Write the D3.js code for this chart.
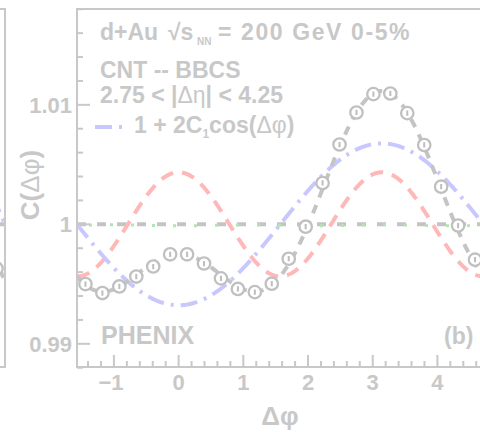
<!DOCTYPE html>
<html>
<head>
<meta charset="utf-8">
<script src="https://cdn.jsdelivr.net/npm/d3@7"></script>
<style>
  html, body { margin: 0; padding: 0; background: #fff; }
  svg { display: block; }
  text { font-family: "Liberation Sans", Arial, Helvetica, sans-serif; font-weight: bold; fill: #c8c8c8; }
</style>
</head>
<body>
<svg id="chart" width="480" height="432"></svg>
<script>
// Δφ bin centres (rad) and measured correlation C(Δφ), panel (b)
const dphi = [-1.4399, -1.1781, -0.9163, -0.6545, -0.3927, -0.1309, 0.1309, 0.3927,
              0.6545, 0.9163, 1.1781, 1.4399, 1.7017, 1.9635, 2.2253, 2.4871,
              2.7489, 3.0107, 3.2725, 3.5343, 3.7961, 4.0579, 4.3197, 4.5815];
const corr = [0.99500, 0.99425, 0.99480, 0.99563, 0.99647, 0.99749, 0.99749, 0.99672,
              0.99548, 0.99459, 0.99433, 0.99503, 0.99712, 0.99980, 1.00346, 1.00668,
              1.00936, 1.01090, 1.01095, 1.00931, 1.00664, 1.00315, 0.99990, 0.99704];
const corrErr = [0.00022, 0.00022, 0.00022, 0.00022, 0.00022, 0.00022, 0.00022, 0.00022,
                 0.00022, 0.00022, 0.00022, 0.00022, 0.00022, 0.00022, 0.00022, 0.00022,
                 0.00022, 0.00022, 0.00022, 0.00022, 0.00022, 0.00022, 0.00022, 0.00022];

// Fourier coefficients of the fit 1 + 2C1cos + 2C2cos2 + 2C3cos3
const C1 = -0.003386;
const C2 = 0.002177;
const C3 = -0.00002;

// Neighbouring panel (a): its last bin and its fit coefficients
const dphiA = [4.5815];
const corrA = [0.99630];
const C1a = -0.0062, C2a = 0.0024, C3a = 0.0000;

const xMajorTicks = [-1, 0, 1, 2, 3, 4];
const yMajorTicks = [0.99, 1.0, 1.01];
const yTickLabels = ["0.99", "1", "1.01"];
const xTickLabels = ["\u22121", "0", "1", "2", "3", "4"];

const svg = d3.select("#chart");
const grey = "#c8c8c8";

// panel (b) frame
const L = 77, T = 9, B = 367, R = 483.5;
const x = d3.scaleLinear().domain([-Math.PI / 2, 3 * Math.PI / 2]).range([L, R]);
const y = d3.scaleLinear().domain([0.98806, 1.01802]).range([B, T]);

// panel (a) frame (only its right edge shows)
const xa = d3.scaleLinear().domain([-Math.PI / 2, 3 * Math.PI / 2]).range([5 - (R - L), 5]);

svg.append("defs").append("clipPath").attr("id", "clipB")
  .append("rect").attr("x", L).attr("y", T).attr("width", R - L).attr("height", B - T);
svg.select("defs").append("clipPath").attr("id", "clipA")
  .append("rect").attr("x", -10).attr("y", T).attr("width", 15).attr("height", B - T);

const grid = d3.range(0, 401).map(i => -Math.PI / 2 + i * 2 * Math.PI / 400);
function fourier(a0, c1, c2, c3) {
  return p => a0 + 2 * c1 * Math.cos(p) + 2 * c2 * Math.cos(2 * p) + 2 * c3 * Math.cos(3 * p);
}

function drawPanel(g, xs, fits, px, py, err) {
  const line = f => d3.line().x(d => xs(d)).y(d => y(f(d)))(grid);
  // flat unity line
  g.append("path").attr("d", line(() => 1.0))
    .attr("fill", "none").attr("stroke", "#c4c4c4").attr("stroke-width", 4)
    .attr("stroke-dasharray", "9,11");
  // second-harmonic term
  g.append("path").attr("d", line(fourier(1, 0, fits[1], 0)))
    .attr("fill", "none").attr("stroke", "#ffb8b8").attr("stroke-width", 4)
    .attr("stroke-dasharray", "13,9");
  // first-harmonic term
  g.append("path").attr("d", line(fourier(1, fits[0], 0, 0)))
    .attr("fill", "none").attr("stroke", "#c8c8ff").attr("stroke-width", 4)
    .attr("stroke-dasharray", "17,7,3,7");
  // third-harmonic term
  g.append("path").attr("d", line(fourier(1, 0, 0, fits[2])))
    .attr("fill", "none").attr("stroke", "#b6e2b6").attr("stroke-width", 3)
    .attr("stroke-dasharray", "3,18").attr("stroke-dashoffset", -12)
    .attr("transform", "translate(0,1)");
  // full fit
  g.append("path").attr("d", line(fourier(1, fits[0], fits[1], fits[2])))
    .attr("fill", "none").attr("stroke", "#c4c4c4").attr("stroke-width", 4)
    .attr("stroke-dasharray", "9,8");
  // data points
  const pts = g.selectAll("g.pt").data(px.map((p, i) => ({ p, v: py[i], e: err ? err[i] : 0.00022 })))
    .join("g").attr("class", "pt");
  pts.append("circle").attr("cx", d => xs(d.p)).attr("cy", d => y(d.v)).attr("r", 6.2)
    .attr("fill", "#fff").attr("stroke", "#c0c0c0").attr("stroke-width", 2.3);
  pts.append("line")
    .attr("x1", d => xs(d.p)).attr("x2", d => xs(d.p))
    .attr("y1", d => y(d.v + d.e)).attr("y2", d => y(d.v - d.e))
    .attr("stroke", "#bdbdbd").attr("stroke-width", 2);
}

// panel (a) remnants
const gA = svg.append("g").attr("clip-path", "url(#clipA)");
drawPanel(gA, xa, [C1a, C2a, C3a], dphiA, corrA, null);
svg.append("path").attr("d", `M0,${T}H5V${B}H0`).attr("fill", "none")
  .attr("stroke", grey).attr("stroke-width", 2);

// panel (b)
const gB = svg.append("g").attr("clip-path", "url(#clipB)");
drawPanel(gB, x, [C1, C2, C3], dphi, corr, corrErr);

// frame
svg.append("path").attr("d", `M${R},${T}H${L}V${B}H${R}`).attr("fill", "none")
  .attr("stroke", grey).attr("stroke-width", 2);

// x axis ticks
const xMinor = d3.range(-7, 24).map(k => k * 0.2).filter(v => v > x.domain()[0] && v < x.domain()[1]);
svg.append("g").selectAll("line").data(xMinor).join("line")
  .attr("x1", d => x(d)).attr("x2", d => x(d))
  .attr("y1", B).attr("y2", d => Math.abs(d - Math.round(d)) < 1e-6 ? B - 12 : B - 6)
  .attr("stroke", grey).attr("stroke-width", 2);
svg.append("g").selectAll("text").data(xMajorTicks).join("text")
  .attr("x", d => x(d) - (d < 0 ? 3 : 0)).attr("y", 390)
  .attr("text-anchor", "middle").attr("font-size", 22)
  .text((d, i) => xTickLabels[i]);

// y axis ticks
const yMinor = d3.range(494, 510).map(k => k * 0.002);
svg.append("g").selectAll("line").data(yMinor).join("line")
  .attr("x1", L).attr("x2", d => Math.abs(d * 100 - Math.round(d * 100)) < 1e-6 ? L + 13 : L + 6)
  .attr("y1", d => y(d)).attr("y2", d => y(d))
  .attr("stroke", grey).attr("stroke-width", 2);
svg.append("g").selectAll("text").data(yMajorTicks).join("text")
  .attr("x", 72).attr("y", d => y(d) + 8)
  .attr("text-anchor", "end").attr("font-size", 22)
  .text((d, i) => yTickLabels[i]);

// axis titles
const yt = svg.append("text").attr("transform", "translate(39,185) rotate(-90)")
  .attr("text-anchor", "middle").attr("font-size", 26);
yt.append("tspan").text("C(");
yt.append("tspan").attr("font-weight", "normal").text("\u0394\u03c6");
yt.append("tspan").text(")");
svg.append("text").attr("x", 280).attr("y", 425).attr("text-anchor", "middle")
  .attr("font-size", 26).attr("font-weight", "normal").text("\u0394\u03c6");

// header text
svg.append("text").attr("x", 100).attr("y", 40).attr("font-size", 23).text("d+Au");
svg.append("text").attr("x", 168).attr("y", 40).attr("font-size", 23).text("\u221as");
svg.append("text").attr("x", 197).attr("y", 45).attr("font-size", 10).text("NN");
svg.append("text").attr("x", 218).attr("y", 40).attr("font-size", 23)
  .attr("letter-spacing", 1.6).text("= 200 GeV 0-5%");
svg.append("text").attr("x", 100).attr("y", 78).attr("font-size", 23).text("CNT -- BBCS");
const eta = svg.append("text").attr("x", 100).attr("y", 103).attr("font-size", 23);
eta.append("tspan").text("2.75 < |");
eta.append("tspan").attr("font-weight", "normal").text("\u0394\u03b7");
eta.append("tspan").text("| < 4.25");

// legend entry
svg.append("line").attr("x1", 95).attr("x2", 126).attr("y1", 127).attr("y2", 127)
  .attr("stroke", "#c8c8ff").attr("stroke-width", 4).attr("stroke-dasharray", "17,7,3,7");
const lg = svg.append("text").attr("x", 134).attr("y", 133).attr("font-size", 23);
lg.append("tspan").text("1 + 2C");
lg.append("tspan").attr("font-size", 12).attr("dy", 5).text("1");
lg.append("tspan").attr("dy", -5).text("cos(");
lg.append("tspan").attr("font-weight", "normal").text("\u0394\u03c6");
lg.append("tspan").text(")");

svg.append("text").attr("x", 101).attr("y", 344).attr("font-size", 25).text("PHENIX");
svg.append("text").attr("x", 444).attr("y", 344).attr("font-size", 23).text("(b)");
</script>
</body>
</html>
